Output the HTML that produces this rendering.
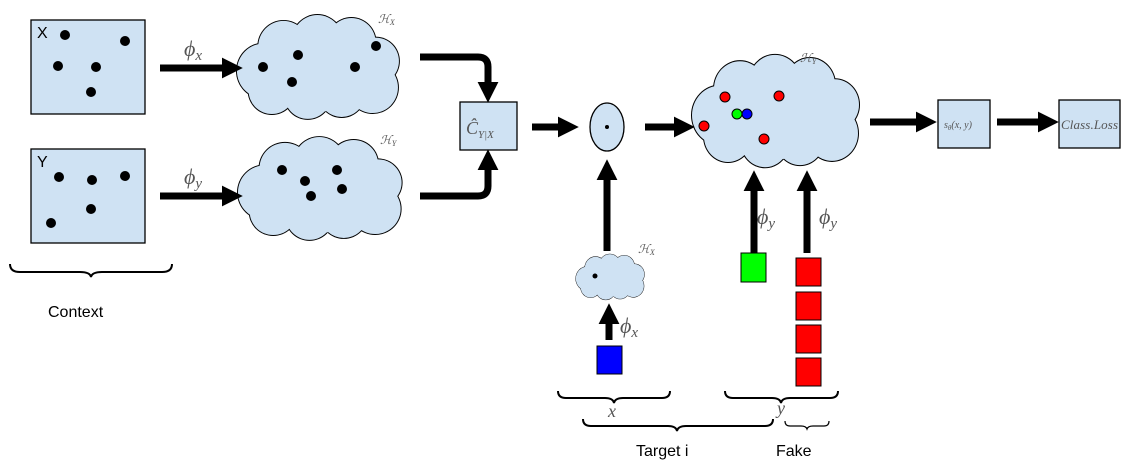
<!DOCTYPE html>
<html><head><meta charset="utf-8"><style>
body{margin:0;background:#fff}
svg{display:block}
text{font-family:"Liberation Sans",sans-serif}
.m{font-family:"Liberation Serif",serif;font-style:italic;fill:#555}
</style></head><body>
<svg width="1140" height="466" viewBox="0 0 1140 466" xmlns="http://www.w3.org/2000/svg">
<defs>
<g id="cl">
<g fill="#000">
<circle cx="30" cy="55" r="29"/><circle cx="50" cy="30" r="27"/><circle cx="85" cy="24" r="27"/><circle cx="120" cy="26" r="26"/><circle cx="145" cy="45" r="25"/><circle cx="142" cy="72" r="27"/><circle cx="110" cy="78" r="25"/><circle cx="75" cy="80" r="25"/><circle cx="38" cy="75" r="25"/>
</g>
<g fill="#cfe2f3">
<circle cx="30" cy="55" r="28"/><circle cx="50" cy="30" r="26"/><circle cx="85" cy="24" r="26"/><circle cx="120" cy="26" r="25"/><circle cx="145" cy="45" r="24"/><circle cx="142" cy="72" r="26"/><circle cx="110" cy="78" r="24"/><circle cx="75" cy="80" r="24"/><circle cx="38" cy="75" r="24"/><circle cx="85" cy="52" r="45"/>
</g>
</g>
<marker id="ah" viewBox="0 0 10 10" refX="2" refY="5" markerWidth="3" markerHeight="3.2" orient="auto"><path d="M0,0L10,5L0,10z" fill="#000"/></marker>
</defs>
<g stroke="#000" stroke-width="1.3" fill="#cfe2f3">
<rect x="31" y="20" width="114" height="94"/>
<rect x="31" y="149" width="114" height="94"/>
<rect x="460" y="102" width="57" height="48"/>
<rect x="938" y="100" width="52" height="48"/>
<rect x="1059" y="100" width="61" height="48"/>
<ellipse cx="607" cy="127" rx="17" ry="24"/>
</g>
<use href="#cl" transform="translate(235,17) scale(0.97,0.98)"/>
<use href="#cl" transform="translate(236,139) scale(0.98,0.97)"/>
<use href="#cl" transform="translate(690,57) scale(1,1.06)"/>
<use href="#cl" transform="translate(575,255) scale(0.41,0.43)"/>
<g fill="#000">
<circle cx="65" cy="35" r="5"/><circle cx="125" cy="41" r="5"/><circle cx="58" cy="66" r="5"/><circle cx="96" cy="67" r="5"/><circle cx="91" cy="92" r="5"/>
<circle cx="59" cy="177" r="5"/><circle cx="92" cy="180" r="5"/><circle cx="125" cy="176" r="5"/><circle cx="91" cy="209" r="5"/><circle cx="51" cy="223" r="5"/>
<circle cx="263" cy="67" r="5"/><circle cx="298" cy="55" r="5"/><circle cx="292" cy="82" r="5"/><circle cx="355" cy="67" r="5"/><circle cx="376" cy="46" r="5"/>
<circle cx="282" cy="170" r="5"/><circle cx="305" cy="181" r="5"/><circle cx="311" cy="196" r="5"/><circle cx="337" cy="170" r="5"/><circle cx="342" cy="189" r="5"/>
<circle cx="607" cy="127" r="2"/><circle cx="595" cy="276" r="2.5"/>
</g>
<g stroke="#000" stroke-width="1">
<circle cx="725" cy="97" r="5" fill="#f00"/><circle cx="779" cy="96" r="5" fill="#f00"/><circle cx="704" cy="126" r="5" fill="#f00"/><circle cx="764" cy="139" r="5" fill="#f00"/>
<circle cx="737" cy="114" r="5" fill="#0f0"/><circle cx="747" cy="114" r="5" fill="#00f"/>
<rect x="597" y="346" width="25" height="28" fill="#00f"/>
<rect x="741" y="253" width="25" height="29" fill="#0f0"/>
<rect x="796" y="258" width="25" height="28" fill="#f00"/><rect x="796" y="292" width="25" height="28" fill="#f00"/><rect x="796" y="325" width="25" height="28" fill="#f00"/><rect x="796" y="358" width="25" height="28" fill="#f00"/>
</g>
<g stroke="#000" stroke-width="7" fill="none" marker-end="url(#ah)">
<path d="M160,68H226"/>
<path d="M160,196H226"/>
<path d="M420,57H478Q488,57 488,67V86"/>
<path d="M420,196H478Q488,196 488,186V166"/>
<path d="M532,127H562"/>
<path d="M645,127H678"/>
<path d="M870,122H920"/>
<path d="M997,122H1042"/>
<path d="M607,251V176"/>
<path d="M609,340V320"/>
<path d="M754,253V187"/>
<path d="M807,253V187"/>
</g>
<g stroke="#000" stroke-width="2" fill="none">
<path d="M10,264Q10,272 20,272H80Q90,272 91,277Q92,272 102,272H162Q172,272 172,264"/>
<path d="M558,391Q558,398 566,398H605Q613,398 614,403Q615,398 623,398H662Q670,398 670,391"/>
<path d="M725,391Q725,398 733,398H772Q780,398 781,403Q782,398 790,398H830Q838,398 838,391"/>
<path d="M583,419Q583,426 591,426H668Q676,426 677,431Q678,426 686,426H765Q773,426 773,419"/>
<path d="M785,421Q785,426 790,426H801Q806,426 807,429Q808,426 813,426H824Q829,426 829,421" stroke-width="1.2"/>
</g>
<text x="37" y="38" font-size="16">X</text>
<text x="37" y="167" font-size="16">Y</text>
<text x="48" y="317" font-size="16">Context</text>
<text x="636" y="456" font-size="16">Target i</text>
<text x="776" y="456" font-size="16">Fake</text>
<text class="m" x="184" y="56" font-size="22">ϕ<tspan font-size="15" dy="4">x</tspan></text>
<text class="m" x="184" y="184" font-size="22">ϕ<tspan font-size="15" dy="4">y</tspan></text>
<text class="m" x="378" y="23" font-size="12">ℋ<tspan font-size="8" dy="2">X</tspan></text>
<text class="m" x="380" y="144" font-size="12">ℋ<tspan font-size="8" dy="2">Y</tspan></text>
<text class="m" x="800" y="62" font-size="12">ℋ<tspan font-size="8" dy="2">Y</tspan></text>
<text class="m" x="638" y="253" font-size="12">ℋ<tspan font-size="8" dy="2">X</tspan></text>
<text class="m" x="466" y="134" font-size="18" fill="#444">Ĉ<tspan font-size="11" dy="4">Y|X</tspan></text>
<text class="m" x="944" y="128" font-size="10">s<tspan font-size="7" dy="2">θ</tspan><tspan dy="-2">(x, y)</tspan></text>
<text class="m" x="1061" y="129" font-size="13" textLength="57">Class.Loss</text>
<text class="m" x="620" y="333" font-size="22">ϕ<tspan font-size="15" dy="4">x</tspan></text>
<text class="m" x="757" y="224" font-size="22">ϕ<tspan font-size="15" dy="4">y</tspan></text>
<text class="m" x="819" y="224" font-size="22">ϕ<tspan font-size="15" dy="4">y</tspan></text>
<text class="m" x="608" y="417" font-size="18">x</text>
<text class="m" x="777" y="414" font-size="18">y</text>
</svg>
</body></html>
